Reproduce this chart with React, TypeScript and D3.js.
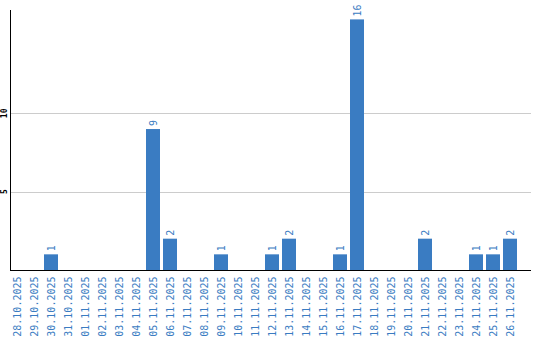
import React from "react";
import * as d3 from "d3";

const dates = [
  "28.10.2025", "29.10.2025", "30.10.2025", "31.10.2025", "01.11.2025",
  "02.11.2025", "03.11.2025", "04.11.2025", "05.11.2025", "06.11.2025",
  "07.11.2025", "08.11.2025", "09.11.2025", "10.11.2025", "11.11.2025",
  "12.11.2025", "13.11.2025", "14.11.2025", "15.11.2025", "16.11.2025",
  "17.11.2025", "18.11.2025", "19.11.2025", "20.11.2025", "21.11.2025",
  "22.11.2025", "23.11.2025", "24.11.2025", "25.11.2025", "26.11.2025",
];
const counts = [0, 0, 1, 0, 0, 0, 0, 0, 9, 2, 0, 0, 1, 0, 0, 1, 2, 0, 0, 1, 16, 0, 0, 0, 2, 0, 0, 1, 1, 2];
const yTicks = [5, 10];

const W = 540;
const H = 340;
const left = 10.5;
const right = 531;
const top = 10;
const bottom = 270;
const blue = "#3a7cc2";
const mono = "'DejaVu Sans Mono', monospace";

export default function App() {
  const x = d3
    .scaleBand<string>()
    .domain(dates)
    .range([10, 517])
    .paddingInner(3 / 17)
    .paddingOuter(0)
    .align(0);
  const y = d3.scaleLinear().domain([0, 16.6]).range([bottom, top]);

  return (
    <svg
      width={W}
      height={H}
      style={{ position: "absolute", left: 0, top: 0, background: "#fff" }}
    >
      {yTicks.map((t) => (
        <g key={t}>
          <line x1={left} x2={right} y1={Math.round(y(t)) + 0.5} y2={Math.round(y(t)) + 0.5} stroke="#cccccc" />
          <text
            transform={`translate(4, ${y(t)}) rotate(-90)`}
            textAnchor="middle"
            dy="0.35em"
            fontFamily={mono}
            fontSize={8}
            fontWeight="bold"
            fill="#000"
          >
            {t}
          </text>
        </g>
      ))}
      {dates.map((d, i) => {
        const v = counts[i];
        const bx = x(d) as number;
        const cx = bx + x.bandwidth() / 2;
        return (
          <g key={d}>
            {v > 0 && (
              <>
                <rect x={bx} y={y(v)} width={x.bandwidth()} height={bottom - y(v)} fill={blue} />
                <text
                  transform={`translate(${cx}, ${y(v) - 3}) rotate(-90)`}
                  textAnchor="start"
                  dy="0.35em"
                  fontFamily={mono}
                  fontSize={10}
                  fill={blue}
                >
                  {v}
                </text>
              </>
            )}
            <text
              transform={`translate(${cx}, 276.5) rotate(-90)`}
              textAnchor="end"
              dy="0.35em"
              fontFamily={mono}
              fontSize={10}
              fill={blue}
            >
              {d}
            </text>
          </g>
        );
      })}
      <line x1={left} x2={left} y1={top} y2={bottom} stroke="#000" />
      <line x1={left - 0.5} x2={right} y1={bottom + 0.5} y2={bottom + 0.5} stroke="#000" />
    </svg>
  );
}
